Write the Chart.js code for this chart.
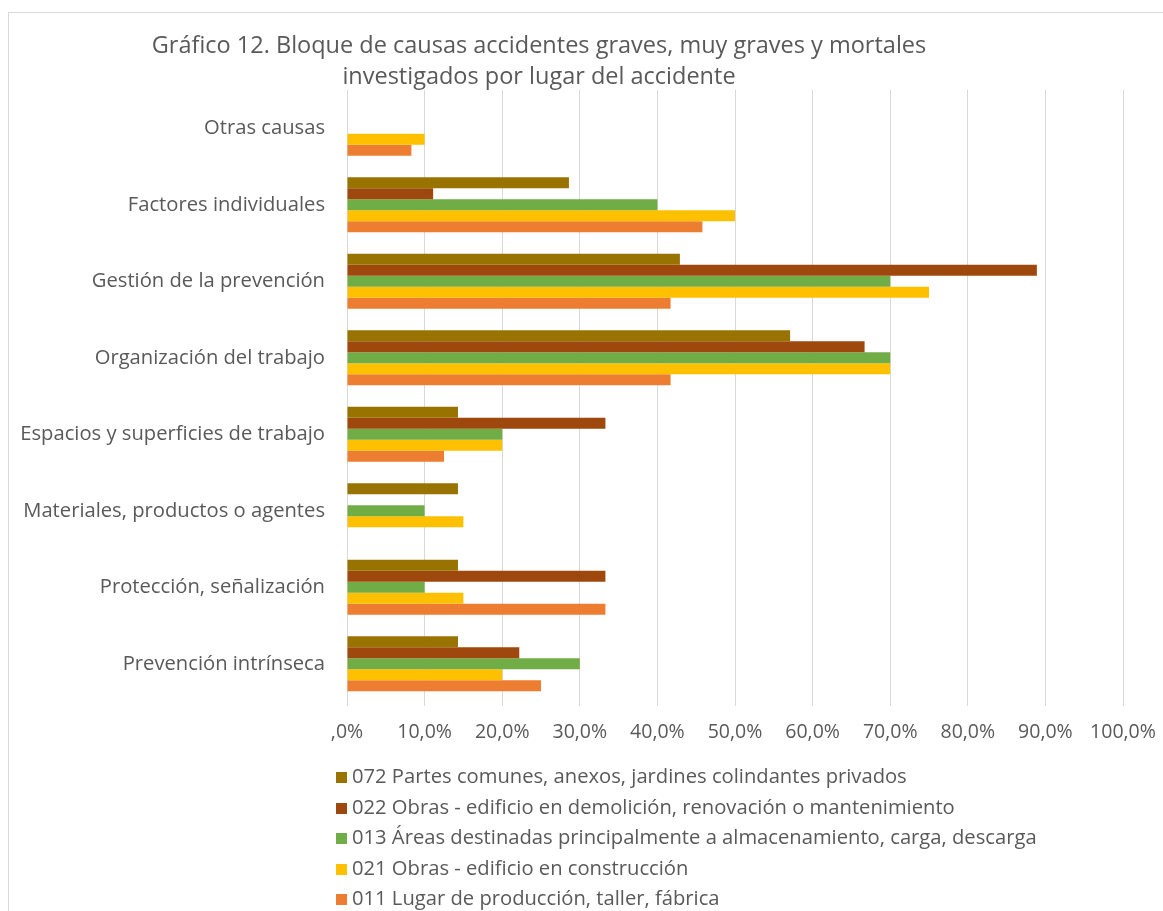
<!DOCTYPE html>
<html>
<head>
<meta charset="utf-8">
<script src="https://cdn.jsdelivr.net/npm/chart.js@4"></script>
<style>
  html, body { margin: 0; padding: 0; background: #fff; }
  body { width: 1163px; height: 911px; position: relative; overflow: hidden; font-family: "Open Sans", Lato, sans-serif; color: #595959; }
  #frame { position: absolute; left: 8px; top: 12px; width: 1200px; height: 1000px; border-left: 1px solid #d9d9d9; border-top: 1px solid #d9d9d9; }
  #title { position: absolute; left: 89px; width: 900px; top: 29px; text-align: center; font-size: 23.5px; line-height: 31px; }
  #wrap { position: absolute; left: 0; top: 0; width: 1163px; height: 911px; }
  #legend { position: absolute; left: 336px; top: 760px; list-style: none; margin: 0; padding: 0; font-size: 20.2px; }
  #legend li { height: 30.6px; line-height: 30.6px; white-space: nowrap; }
  #legend span.box { display: inline-block; width: 11px; height: 11px; margin-right: 5px; vertical-align: 0px; }
</style>
</head>
<body>
<div id="frame"></div>
<div id="wrap"><canvas id="chart" width="1163" height="911"></canvas></div>
<div id="title">Gráfico 12. Bloque de causas accidentes graves, muy graves y mortales<br>investigados por lugar del accidente</div>
<ul id="legend"></ul>
<script>
const categories = [
  "Otras causas",
  "Factores individuales",
  "Gestión de la prevención",
  "Organización del trabajo",
  "Espacios y superficies de trabajo",
  "Materiales, productos o agentes",
  "Protección, señalización",
  "Prevención intrínseca"
];
const seriesNames = [
  "072 Partes comunes, anexos, jardines colindantes privados",
  "022 Obras - edificio en demolición, renovación o mantenimiento",
  "013 Áreas destinadas principalmente a almacenamiento, carga, descarga",
  "021 Obras - edificio en construcción",
  "011 Lugar de producción, taller, fábrica"
];
const s072 = [0, 28.6, 42.9, 57.1, 14.3, 14.3, 14.3, 14.3];
const s022 = [0, 11.1, 88.9, 66.7, 33.3, 0, 33.3, 22.2];
const s013 = [0, 40.0, 70.0, 70.0, 20.0, 10.0, 10.0, 30.0];
const s021 = [10.0, 50.0, 75.0, 70.0, 20.0, 15.0, 15.0, 20.0];
const s011 = [8.3, 45.8, 41.7, 41.7, 12.5, 0, 33.3, 25.0];
const colors = ["#997300", "#9e480e", "#70ad47", "#ffc000", "#ed7d31"];
const xTicks = [0, 10, 20, 30, 40, 50, 60, 70, 80, 90, 100];

const values = [s072, s022, s013, s021, s011];
const datasets = values.map((v, i) => ({
  label: seriesNames[i],
  data: v,
  backgroundColor: colors[i],
  borderWidth: 0,
  categoryPercentage: 0.72,
  barPercentage: 1.0
}));

const fontFam = "'Open Sans', Lato, sans-serif";
const chart = new Chart(document.getElementById("chart"), {
  type: "bar",
  data: { labels: categories, datasets: datasets },
  options: {
    indexAxis: "y",
    responsive: false,
    animation: false,
    layout: { padding: { top: 90, right: 40, bottom: 159, left: 0 } },
    plugins: { legend: { display: false }, title: { display: false }, tooltip: { enabled: false } },
    scales: {
      x: {
        min: 0, max: 100,
        afterBuildTicks: (s) => { s.ticks = xTicks.map(v => ({ value: v })); },
        afterFit: (s) => { s.height = 50; s.paddingLeft = 0; s.paddingRight = 0; },
        grid: { color: "#d9d9d9", lineWidth: 1, drawTicks: true, tickLength: 4 },
        border: { display: false },
        ticks: {
          color: "#595959", font: { family: fontFam, size: 19.5 }, padding: 15,
          callback: (v) => v === 0 ? ",0%" : v.toFixed(1).replace(".", ",") + "%"
        }
      },
      y: {
        afterFit: (s) => { s.width = 347; },
        grid: { display: false, drawTicks: false },
        border: { display: true, color: "#d9d9d9", width: 1 },
        ticks: { color: "#595959", font: { family: fontFam, size: 20.2 }, padding: 22 }
      }
    }
  }
});

const legend = document.getElementById("legend");
seriesNames.forEach((n, i) => {
  const li = document.createElement("li");
  const box = document.createElement("span");
  box.className = "box";
  box.style.background = colors[i];
  li.appendChild(box);
  li.appendChild(document.createTextNode(n));
  legend.appendChild(li);
});
</script>
</body>
</html>
